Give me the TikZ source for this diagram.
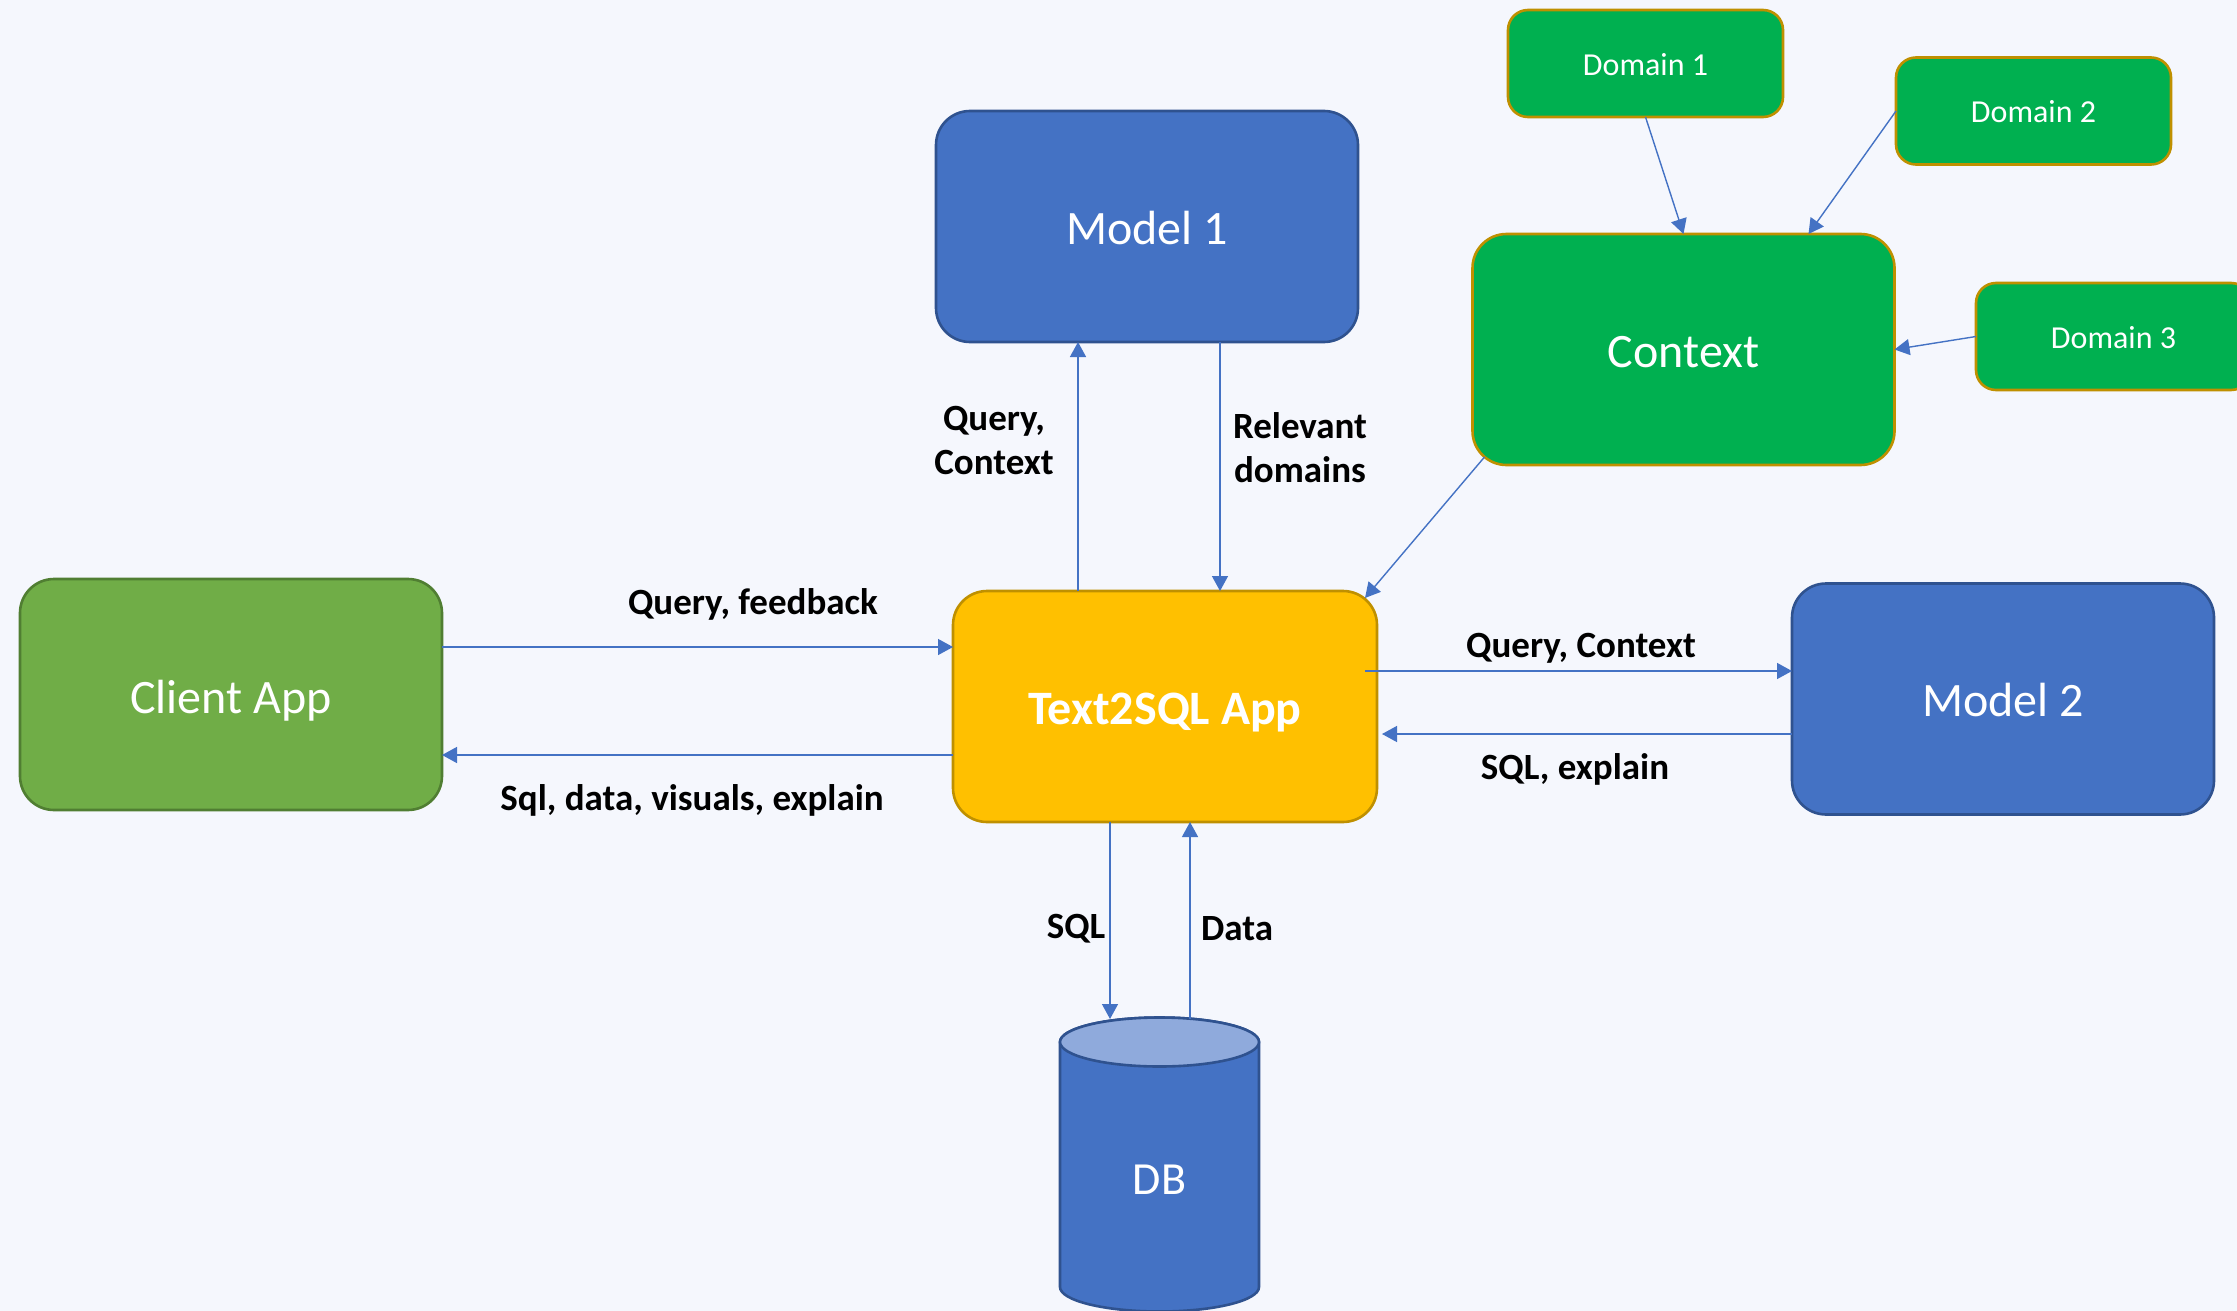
\documentclass[tikz,border=0pt]{standalone}
\usepackage{fontspec}
\setmainfont{Carlito}
\usetikzlibrary{arrows.meta,calc}

\definecolor{bg}{RGB}{245,247,253}
\definecolor{modelblue}{RGB}{68,114,196}
\definecolor{modelborder}{RGB}{47,82,143}
\definecolor{ctxgreen}{RGB}{0,176,80}
\definecolor{gold}{RGB}{191,144,0}
\definecolor{clientgreen}{RGB}{112,173,71}
\definecolor{clientborder}{RGB}{80,126,50}
\definecolor{appyellow}{RGB}{255,192,0}
\definecolor{dbtopfill}{RGB}{143,170,220}
\definecolor{flowblue}{RGB}{68,114,196}

\tikzset{
  box/.style={rectangle, rounded corners=17pt, minimum width=211pt,
    minimum height=115.5pt, line width=1.3pt, inner sep=0pt, outer sep=0pt,
    text=white, text height=17.8pt, text depth=0pt,
    font=\fontsize{24}{28}\selectfont},
  modelbox/.style={box, fill=modelblue, draw=modelborder},
  ctxbox/.style={box, fill=ctxgreen, draw=gold},
  clientbox/.style={box, fill=clientgreen, draw=clientborder,
    text height=18.5pt},
  appbox/.style={box, fill=appyellow, draw=gold,
    font=\fontsize{24}{28}\selectfont\bfseries},
  domainbox/.style={rectangle, rounded corners=10pt, minimum width=137.5pt,
    minimum height=53.5pt, line width=1.3pt, inner sep=0pt, outer sep=0pt,
    fill=ctxgreen, draw=gold, text=white, text height=11.8pt, text depth=0pt,
    font=\fontsize{16}{19}\selectfont},
  dbnode/.style={rectangle, minimum width=99.5pt, minimum height=161pt,
    inner sep=0pt, outer sep=0pt, text=white, font=\fontsize{23}{27}\selectfont},
  flow/.style={color=flowblue, line width=0.7pt,
    -{Triangle[length=7.5pt,width=8pt]}},
  lbl/.style={text=black, font=\fontsize{18.5}{22}\selectfont\bfseries,
    align=center, inner sep=0pt},
  lblone/.style={lbl, text height=11.9pt, text depth=0pt},
}

\begin{document}
\begin{tikzpicture}[x=0.5pt,y=-0.5pt]
  \useasboundingbox (0,0) rectangle (2237,1311);
  \clip (0,0) rectangle (2237,1311);
  \fill[bg] (0,0) rectangle (2237,1311);

  % main components
  \node[modelbox]  (m1)     at (1147,226.5)  {Model 1};
  \node[ctxbox]    (ctx)    at (1683.5,349.5) {Context};
  \node[clientbox] (client) at (231,694.5)   {Client App};
  \node[appbox, minimum width=212pt] (app) at (1165,706.5) {Text2SQL App};
  \node[modelbox]  (m2)     at (2003,699)    {Model 2};

  % domain sources feeding the context
  \node[domainbox] (d1) at (1645.5,63.5) {Domain 1};
  \node[domainbox] (d2) at (2033.5,111)  {Domain 2};
  \node[domainbox] (d3) at (2113.5,336.5) {Domain 3};

  % database cylinder
  \draw[line width=1.3pt, draw=modelborder, fill=modelblue]
    (1060,1042) -- (1060,1287)
    arc[start angle=180, end angle=360, x radius=49.75pt, y radius=12.25pt]
    -- (1259,1042)
    arc[start angle=0, end angle=180, x radius=49.75pt, y radius=12.25pt]
    -- cycle;
  \draw[line width=1.3pt, draw=modelborder, fill=dbtopfill]
    (1159.5,1042) ellipse[x radius=49.75pt, y radius=12.25pt];
  \node[dbnode] (db) at (1159.5,1180) {DB};

  % lanes of the connectors
  \coordinate (lup)   at (1078,0);
  \coordinate (ldown) at (1220,0);
  \coordinate (lsql)  at (1110,0);
  \coordinate (ldata) at (1190,0);
  \coordinate (rq)    at (0,647);
  \coordinate (rback) at (0,755);
  \coordinate (rm2q)  at (0,671);
  \coordinate (rm2b)  at (0,734);

  % connectors
  \draw[flow] (client.east |- rq) -- (app.west |- rq);
  \draw[flow] (app.west |- rback) -- (client.east |- rback);
  \draw[flow] (app.north -| lup) -- (m1.south -| lup);
  \draw[flow] (m1.south -| ldown) -- (app.north -| ldown);
  \draw[flow] ($(ctx.south west)+(12,-8)$) -- ($(app.north east)+(-12,7)$);
  \draw[flow] ($(app.east |- rm2q)+(-12,0)$) -- (m2.west |- rm2q);
  \draw[flow] (m2.west |- rm2b) -- ($(app.east |- rm2b)+(5,0)$);
  \draw[flow] (app.south -| lsql) -- (db.north -| lsql);
  \draw[flow] (db.north -| ldata) -- (app.south -| ldata);
  \draw[flow] (d1.south) -- (ctx.north);
  \draw[flow] (d2.west) -- ($(ctx.north)+(125,0)$);
  \draw[flow] (d3.west) -- (ctx.east);

  % connector labels
  \node[lbl]    (lqc)   at (994,440)  {Query,\\Context};
  \node[lbl]    (lrd)   at (1300,448) {Relevant\\domains};
  \node[lblone] (lqf)   at (753,603)  {Query, feedback};
  \node[lblone] (lsdve) at (692,799)  {Sql, data, visuals, explain};
  \node[lblone] (lqc2)  at (1581,646) {Query, Context};
  \node[lblone] (lse)   at (1575,768) {SQL, explain};
  \node[lblone] (lsqlt) at (1076,927) {SQL};
  \node[lblone] (ldat)  at (1237,929) {Data};
\end{tikzpicture}
\end{document}
